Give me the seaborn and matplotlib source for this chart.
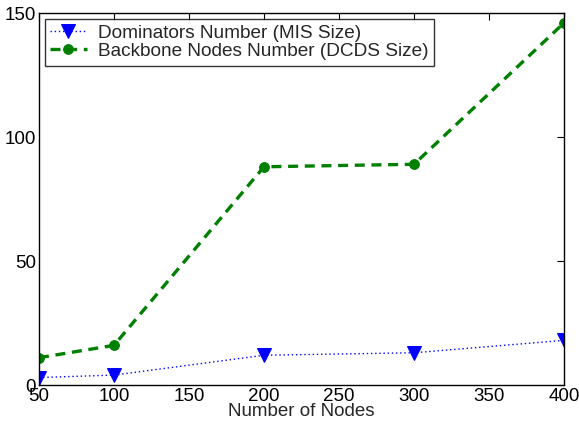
import numpy as np
import pandas as pd
import matplotlib
matplotlib.use('Agg')
import matplotlib.pyplot as plt
import seaborn as sns

# данные
nodes = [50, 100, 200, 300, 400]
mis_size = [3, 4, 12, 13, 18]
dcds_size = [11, 16, 88, 89, 146]
labels = ['Dominators Number (MIS Size)', 'Backbone Nodes Number (DCDS Size)']

sns.set_style('white')
plt.rcParams['font.family'] = ['Liberation Sans', 'DejaVu Sans']

df = pd.DataFrame({'nodes': nodes, 'mis': mis_size, 'dcds': dcds_size})

fig = plt.figure(figsize=(5.79, 4.24), dpi=100)
ax = fig.add_axes([39 / 579, 1 - 385 / 424, (564 - 39) / 579, (385 - 13) / 424])

sns.lineplot(data=df, x='nodes', y='mis', ax=ax, color='#0000ff', linestyle=(0, (1, 2)),
             linewidth=1.0, marker='v', markersize=10, markeredgecolor='#0000ff',
             label=labels[0])
sns.lineplot(data=df, x='nodes', y='dcds', ax=ax, color='#008000', linestyle=(0, (3, 2)),
             linewidth=2.4, marker='o', markersize=7, markeredgecolor='#008000',
             label=labels[1])

ax.set_xlim(50, 400)
ax.set_ylim(0, 150)
ax.set_xticks(range(50, 401, 50))
ax.set_yticks([0, 50, 100, 150])
ax.set_xlabel('Number of Nodes', fontsize=13.5, labelpad=-1)
ax.set_ylabel('')
ax.tick_params(direction='in', length=5, width=0.8, top=True, right=True,
               labelsize=13.5, colors='black', pad=2)
for s in ax.spines.values():
    s.set_visible(True)
    s.set_color('black')
    s.set_linewidth(1.0)

leg = ax.legend(loc='upper left', fontsize=13.7, frameon=True, fancybox=False,
                edgecolor='black', borderpad=0.3, labelspacing=0.05,
                handlelength=1.9, handletextpad=0.6, borderaxespad=0.3)
leg.get_frame().set_linewidth(1.0)

fig.savefig('out.png', dpi=100)
